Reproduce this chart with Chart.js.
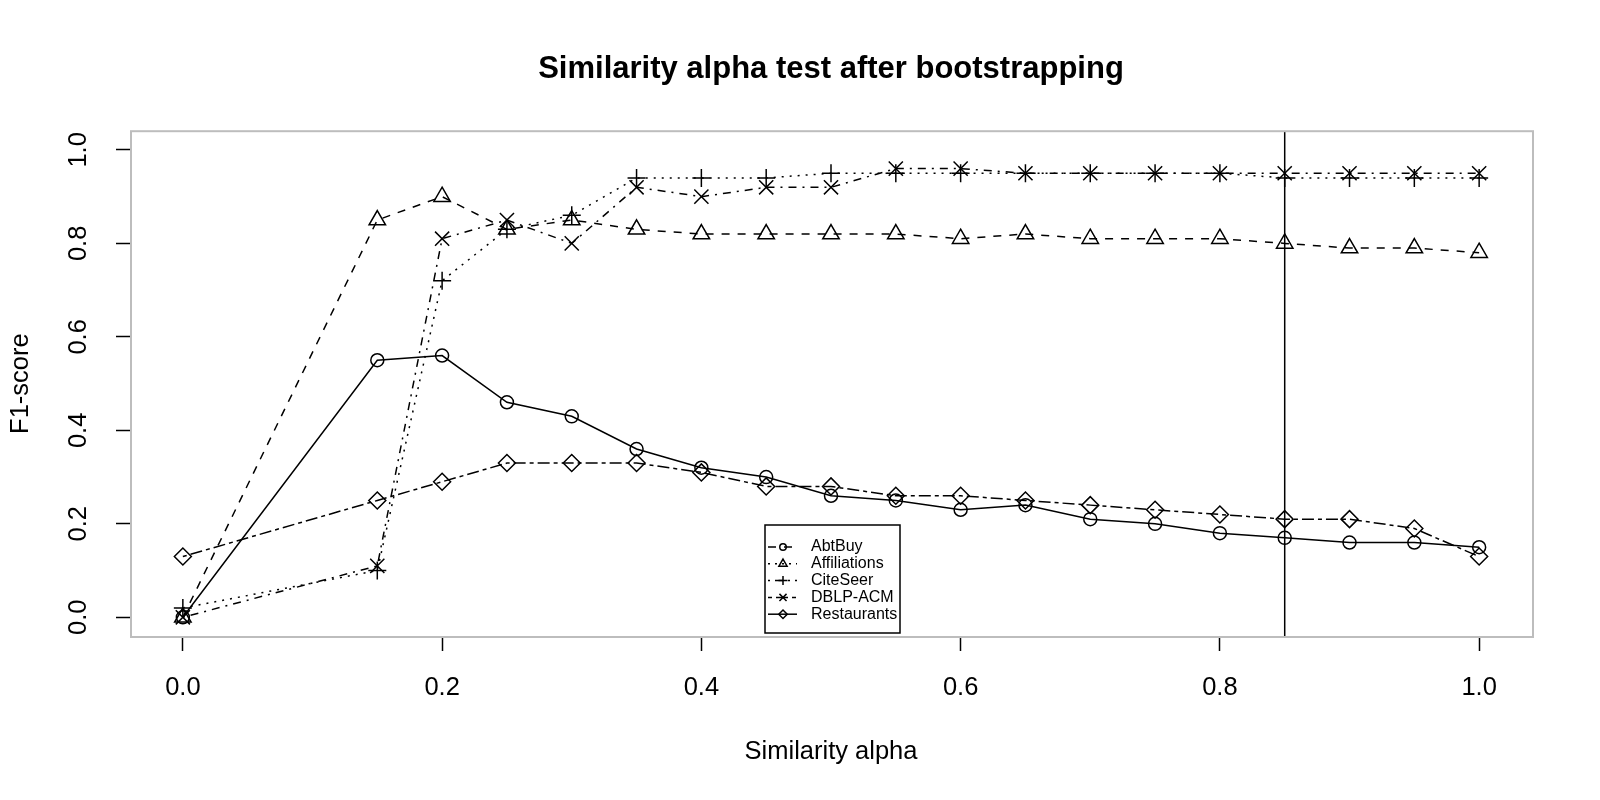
<!DOCTYPE html>
<html>
<head>
<meta charset="utf-8">
<script src="https://cdn.jsdelivr.net/npm/chart.js@4.4.0/dist/chart.umd.min.js"></script>
<style>
  html, body { margin: 0; padding: 0; background: #fff; }
  #wrap { width: 1600px; height: 800px; }
</style>
</head>
<body>
<div id="wrap"><canvas id="alphaChart" width="1600" height="800"></canvas></div>
<script>
// --- values ---
const alpha = [0, 0.15, 0.2, 0.25, 0.3, 0.35, 0.4, 0.45, 0.5, 0.55, 0.6, 0.65, 0.7, 0.75, 0.8, 0.85, 0.9, 0.95, 1.0];

const abtBuy       = [0.00, 0.55, 0.56, 0.46, 0.43, 0.36, 0.32, 0.30, 0.26, 0.25, 0.23, 0.24, 0.21, 0.20, 0.18, 0.17, 0.16, 0.16, 0.15];
const affiliations = [0.00, 0.85, 0.90, 0.83, 0.85, 0.83, 0.82, 0.82, 0.82, 0.82, 0.81, 0.82, 0.81, 0.81, 0.81, 0.80, 0.79, 0.79, 0.78];
const citeSeer     = [0.02, 0.10, 0.72, 0.83, 0.86, 0.94, 0.94, 0.94, 0.95, 0.95, 0.95, 0.95, 0.95, 0.95, 0.95, 0.94, 0.94, 0.94, 0.94];
const dblpAcm      = [0.00, 0.11, 0.81, 0.85, 0.80, 0.92, 0.90, 0.92, 0.92, 0.96, 0.96, 0.95, 0.95, 0.95, 0.95, 0.95, 0.95, 0.95, 0.95];
const restaurants  = [0.13, 0.25, 0.29, 0.33, 0.33, 0.33, 0.31, 0.28, 0.28, 0.26, 0.26, 0.25, 0.24, 0.23, 0.22, 0.21, 0.21, 0.19, 0.13];

const seriesNames = ['AbtBuy', 'Affiliations', 'CiteSeer', 'DBLP-ACM', 'Restaurants'];
const seriesValues = [abtBuy, affiliations, citeSeer, dblpAcm, restaurants];

const xTicks = [0, 0.2, 0.4, 0.6, 0.8, 1.0];
const yTicks = [0, 0.2, 0.4, 0.6, 0.8, 1.0];
const alphaCutoff = 0.85;

// --- look of each series (R style lty / pch) ---
const styles = [
  { pointStyle: 'circle',   radius: 6.5, dash: [],            legendDash: [8, 8] },
  { pointStyle: 'triangle', radius: 9.5, dash: [8, 8],        legendDash: [2, 5] },
  { pointStyle: 'cross',    radius: 9,   dash: [2, 6],        legendDash: [2, 5, 8, 5] },
  { pointStyle: 'crossRot', radius: 10,  dash: [2, 6, 8, 6],  legendDash: [4, 4, 12, 4] },
  { pointStyle: 'rectRot',  radius: 8.5, dash: [4, 4, 12, 4], legendDash: [] }
];

const FONT = '"Liberation Sans", Arial, Helvetica, sans-serif';
Chart.defaults.font.family = FONT;
Chart.defaults.color = '#000';

// box round the plot + vertical line at the chosen alpha
const framePlugin = {
  id: 'frame',
  beforeDatasetsDraw(chart) {
    const { ctx, chartArea: a, scales } = chart;
    ctx.save();
    const px = scales.x.getPixelForValue(alphaCutoff);
    ctx.strokeStyle = '#000';
    ctx.lineWidth = 1.5;
    ctx.beginPath();
    ctx.moveTo(px, a.top);
    ctx.lineTo(px, a.bottom);
    ctx.stroke();
    ctx.strokeStyle = '#bdbdbd';
    ctx.lineWidth = 2;
    ctx.strokeRect(a.left, a.top, a.right - a.left + 2, a.bottom - a.top + 1);
    ctx.restore();
  }
};

// R-like legend box inside the plot
const legendPlugin = {
  id: 'boxLegend',
  afterDraw(chart) {
    const ctx = chart.ctx;
    const left = 765, top = 525, w = 135, h = 108, rowH = 16.8;
    ctx.save();
    ctx.fillStyle = '#fff';
    ctx.fillRect(left, top, w, h);
    ctx.strokeStyle = '#000';
    ctx.lineWidth = 1.5;
    ctx.strokeRect(left, top, w, h);
    ctx.font = '16px ' + FONT;
    ctx.textBaseline = 'middle';
    seriesNames.forEach((name, i) => {
      const y = top + 22 + i * rowH;
      const st = styles[i];
      ctx.strokeStyle = '#000';
      ctx.lineWidth = 1.5;
      ctx.setLineDash(st.legendDash);
      ctx.beginPath();
      ctx.moveTo(768, y);
      ctx.lineTo(797, y);
      ctx.stroke();
      ctx.setLineDash([]);
      ctx.fillStyle = 'rgba(0,0,0,0)';
      Chart.helpers.drawPoint(ctx, { pointStyle: st.pointStyle, radius: st.radius * 0.5, borderWidth: 1.5, rotation: 0 }, 783, y);
      ctx.fillStyle = '#000';
      ctx.fillText(name, 811, y);
    });
    ctx.restore();
  }
};

const datasets = seriesValues.map((vals, i) => ({
  label: seriesNames[i],
  data: alpha.map((a, j) => ({ x: a, y: vals[j] })),
  borderColor: '#000',
  borderWidth: 1.5,
  borderDash: styles[i].dash,
  backgroundColor: 'rgba(0,0,0,0)',
  pointStyle: styles[i].pointStyle,
  pointRadius: styles[i].radius,
  pointBorderWidth: 1.5,
  pointBorderColor: '#000',
  pointBackgroundColor: 'rgba(0,0,0,0)',
  fill: false,
  tension: 0
}));

new Chart(document.getElementById('alphaChart'), {
  type: 'line',
  data: { datasets },
  plugins: [framePlugin, legendPlugin],
  options: {
    responsive: false,
    animation: false,
    layout: { padding: { left: 0, right: 69, top: 0, bottom: 0 } },
    plugins: {
      legend: { display: false },
      tooltip: { enabled: false },
      title: {
        display: true,
        fullSize: false,
        text: 'Similarity alpha test after bootstrapping',
        color: '#000',
        font: { size: 31, weight: 'bold' },
        padding: { top: 51, bottom: 43 }
      }
    },
    scales: {
      x: {
        type: 'linear',
        min: -0.04,
        max: 1.04,
        afterBuildTicks: s => { s.ticks = xTicks.map(v => ({ value: v })); },
        afterFit: s => { s.height = 164; },
        grid: { drawOnChartArea: false, drawTicks: true, tickLength: 15, tickColor: '#000', tickWidth: 1.5 },
        border: { display: false },
        ticks: { color: '#000', font: { size: 25.5 }, padding: 22, maxRotation: 0, autoSkip: false, callback: v => v.toFixed(1) },
        title: { display: true, text: 'Similarity alpha', color: '#000', font: { size: 25.5 }, padding: { top: 0, bottom: 33 } }
      },
      y: {
        type: 'linear',
        min: -0.04,
        max: 1.04,
        afterBuildTicks: s => { s.ticks = yTicks.map(v => ({ value: v })); },
        afterFit: s => { s.width = 131; },
        grid: { drawOnChartArea: false, drawTicks: true, tickLength: 15, tickColor: '#000', tickWidth: 1.5 },
        border: { display: false },
        ticks: { color: '#000', font: { size: 25.5 }, padding: 19, minRotation: 90, maxRotation: 90, crossAlign: 'center', autoSkip: false, callback: v => v.toFixed(1) },
        title: { display: true, text: 'F1-score', color: '#000', font: { size: 25.5 }, padding: { top: 6, bottom: 0 } }
      }
    }
  }
});
</script>
</body>
</html>
